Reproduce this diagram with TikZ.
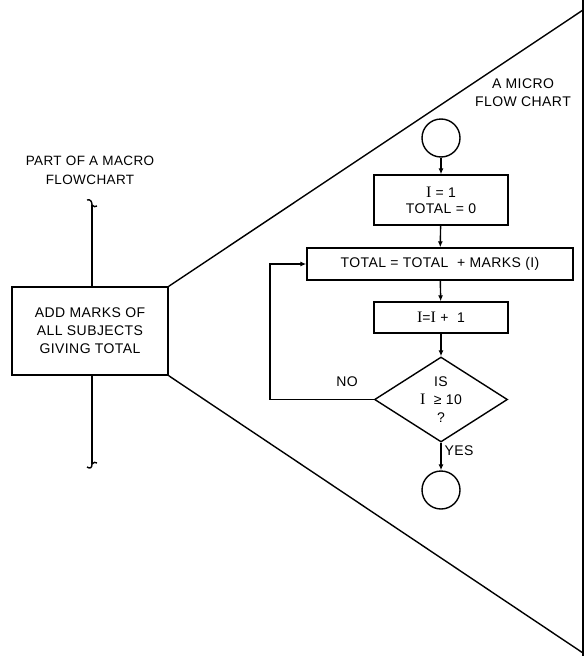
\documentclass[tikz,border=0pt]{standalone}
\usepackage{fontspec}
\setmainfont[LetterSpace=3]{Liberation Sans}
\newfontfamily\serifI{Liberation Serif}
\usetikzlibrary{shapes.geometric,arrows.meta}
\newcommand{\SI}{{\serifI\fontsize{16}{16}\selectfont I}}
\begin{document}
\begin{tikzpicture}[x=1pt,y=-1pt,
  every node/.style={font=\fontsize{14}{16}\selectfont},
  ln/.style={line width=1.4pt,black},
  boxx/.style={draw,line width=1.4pt,rectangle,inner sep=0pt,align=center},
  term/.style={draw,line width=1.4pt,circle,minimum size=38pt,inner sep=0pt},
  flow/.style={line width=1.4pt,-{Latex[length=6pt,width=5pt]}},
  lbl/.style={inner sep=0pt,align=center}]
\useasboundingbox (0,0) rectangle (586,656);
\fill[white] (0,0) rectangle (586,656);
% macro part
\node[lbl,font=\fontsize{13.5}{15}\selectfont] (macrolbl) at (90,170.5) {PART OF A MACRO\\[4pt]FLOWCHART};
\node[boxx,minimum width=156pt,minimum height=88pt] (add) at (90,331)
  {ADD MARKS OF\\[2pt]ALL SUBJECTS\\[2pt]GIVING TOTAL};
\coordinate (topend) at (92,205);
\coordinate (botend) at (92,464);
\draw[ln] (add.north -| topend) -- (topend);
\draw[ln] (add.south -| botend) -- (botend);
\draw[ln] (topend) .. controls (92,201) and (90,199) .. (87,200);
\draw[ln] (topend) .. controls (93,207) and (96,207) .. (97,206);
\draw[ln] (botend) .. controls (92,468) and (90,469) .. (87,467);
\draw[ln] (botend) .. controls (93,462) and (96,462) .. (97,463);
% triangle
\coordinate (tr) at (583,10);
\coordinate (br) at (583,653);
\draw[ln] (add.north east) -- (tr);
\draw[ln] (add.south east) -- (br);
\draw[ln] (583,0) -- (583,656);
% micro flowchart
\node[lbl,font=\fontsize{14}{15}\selectfont] (microlbl) at (523,93) {A MICRO\\[3pt]FLOW CHART};
\node[term] (start) at (441,138) {};
\node[boxx,minimum width=134pt,minimum height=50pt] (init) at (441,200)
  {\SI{} = 1\\[0pt]TOTAL = 0};
\node[boxx,minimum width=266pt,minimum height=32pt] (acc) at (440,264)
  {TOTAL = TOTAL \ + MARKS (I)};
\node[boxx,minimum width=134pt,minimum height=31pt] (inc) at (441,317.5)
  {\SI{}=\SI{} + \ 1};
\node[draw,line width=1.4pt,diamond,minimum width=133pt,minimum height=85pt,inner sep=0pt] (dec) at (441,399.5) {};
\node[lbl] (dectxt) at (dec.center) {IS\\[2pt]\SI{} \ ≥ 10\\[2pt]?};
\node[term] (stop) at (441,490) {};
\draw[flow] (start) -- (init);
\draw[flow] (init) -- (acc);
\draw[flow] (acc) -- (inc);
\draw[flow] (inc) -- (dec);
\draw[flow] (dec) -- (stop) node[pos=0.3,right=3pt,lbl] (yes) {YES};
\coordinate (loopc) at (270,399.5);
\draw[flow] (dec.west) -- (loopc) |- (acc.west);
\node[lbl] (no) at (347,382) {NO};
\end{tikzpicture}
\end{document}
